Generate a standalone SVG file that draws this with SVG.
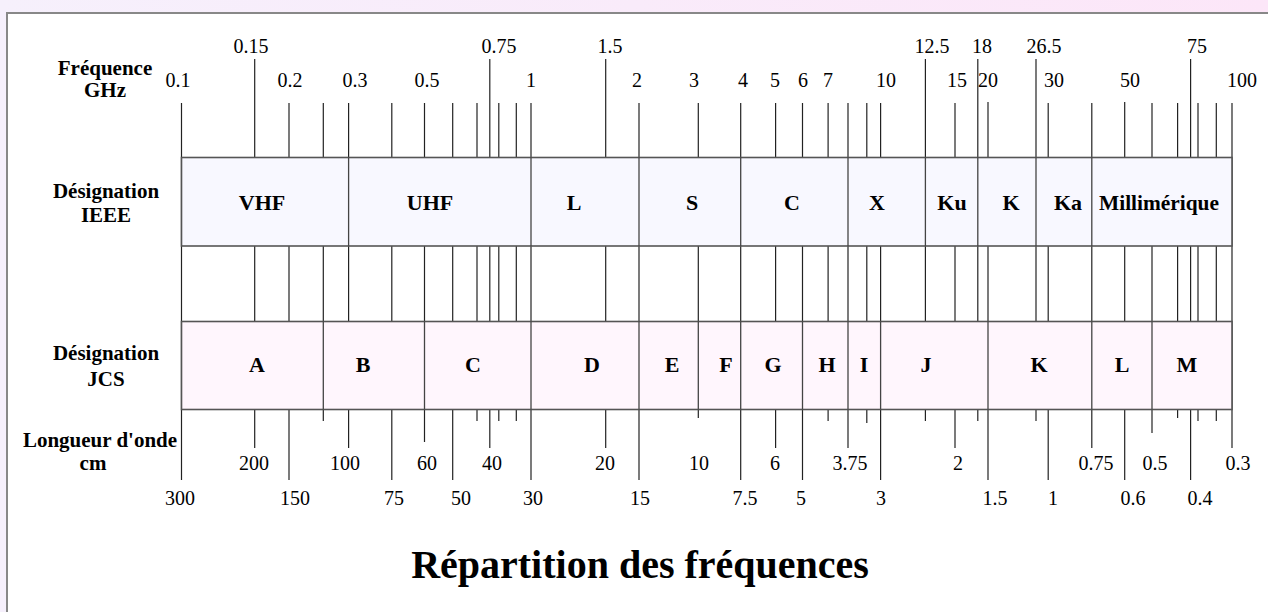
<svg xmlns="http://www.w3.org/2000/svg" width="1268" height="612" viewBox="0 0 1268 612">
<defs>
<linearGradient id="bg" x1="0" y1="0" x2="1" y2="0">
<stop offset="0" stop-color="#f6f0fc"/>
<stop offset="1" stop-color="#fce6f8"/>
</linearGradient>
<style>
.n{font-family:"Liberation Serif","Times New Roman",serif;font-size:20px;fill:#000;text-anchor:middle}
.h{font-family:"Liberation Serif","Times New Roman",serif;font-size:21px;font-weight:bold;fill:#000;text-anchor:middle}
.b{font-family:"Liberation Serif","Times New Roman",serif;font-size:22px;font-weight:bold;fill:#000;text-anchor:middle}
.t{font-family:"Liberation Serif","Times New Roman",serif;font-size:40px;font-weight:bold;fill:#000;text-anchor:middle}
.tk line{stroke:#222;stroke-width:1.2}
.dv line{stroke:#444;stroke-width:1.3}
.box{stroke:#555;stroke-width:1.6}
</style>
</defs>
<rect x="0" y="0" width="1268" height="612" fill="url(#bg)"/>
<rect x="7" y="13" width="1280" height="620" fill="#fff" stroke="#888" stroke-width="2"/>

<g id="ticks" class="tk">
<line x1="181.5" y1="103" x2="181.5" y2="480"/>
<line x1="254.7" y1="59" x2="254.7" y2="448"/>
<line x1="289" y1="103" x2="289" y2="480"/>
<line x1="323.3" y1="103" x2="323.3" y2="421"/>
<line x1="348.6" y1="103" x2="348.6" y2="448"/>
<line x1="391.8" y1="103" x2="391.8" y2="480"/>
<line x1="424.5" y1="103" x2="424.5" y2="442"/>
<line x1="452.7" y1="103" x2="452.7" y2="480"/>
<line x1="477" y1="103" x2="477" y2="421"/>
<line x1="489.8" y1="59" x2="489.8" y2="448"/>
<line x1="498.8" y1="103" x2="498.8" y2="421"/>
<line x1="516.3" y1="103" x2="516.3" y2="421"/>
<line x1="531" y1="103" x2="531" y2="480"/>
<line x1="605.7" y1="59" x2="605.7" y2="448"/>
<line x1="639" y1="103" x2="639" y2="480"/>
<line x1="698.3" y1="103" x2="698.3" y2="418"/>
<line x1="740.7" y1="103" x2="740.7" y2="480"/>
<line x1="775.6" y1="103" x2="775.6" y2="448"/>
<line x1="802.5" y1="103" x2="802.5" y2="480"/>
<line x1="828.1" y1="103" x2="828.1" y2="421"/>
<line x1="848" y1="103" x2="848" y2="448"/>
<line x1="866.8" y1="103" x2="866.8" y2="423"/>
<line x1="880.6" y1="103" x2="880.6" y2="480"/>
<line x1="925.4" y1="59" x2="925.4" y2="421"/>
<line x1="955" y1="103" x2="955" y2="448"/>
<line x1="977.8" y1="59" x2="977.8" y2="421"/>
<line x1="988" y1="102" x2="988" y2="480"/>
<line x1="1036" y1="59" x2="1036" y2="421"/>
<line x1="1048.2" y1="103" x2="1048.2" y2="480"/>
<line x1="1091.8" y1="103" x2="1091.8" y2="448"/>
<line x1="1124.7" y1="102" x2="1124.7" y2="480"/>
<line x1="1152" y1="103" x2="1152" y2="433"/>
<line x1="1177.6" y1="103" x2="1177.6" y2="418"/>
<line x1="1190.6" y1="59" x2="1190.6" y2="480"/>
<line x1="1198" y1="103" x2="1198" y2="421"/>
<line x1="1216.3" y1="103" x2="1216.3" y2="421"/>
<line x1="1232" y1="103" x2="1232" y2="448"/>
</g>

<g id="freq-labels">
<text class="h" x="105" y="75">Fréquence</text>
<text class="h" x="105" y="97">GHz</text>
<text class="n" x="251" y="53">0.15</text>
<text class="n" x="499" y="53">0.75</text>
<text class="n" x="610" y="53">1.5</text>
<text class="n" x="932" y="53">12.5</text>
<text class="n" x="982" y="53">18</text>
<text class="n" x="1044" y="53">26.5</text>
<text class="n" x="1197" y="53">75</text>
<text class="n" x="178" y="87">0.1</text>
<text class="n" x="290" y="87">0.2</text>
<text class="n" x="355" y="87">0.3</text>
<text class="n" x="427" y="87">0.5</text>
<text class="n" x="531" y="87">1</text>
<text class="n" x="637" y="87">2</text>
<text class="n" x="694" y="87">3</text>
<text class="n" x="743" y="87">4</text>
<text class="n" x="775" y="87">5</text>
<text class="n" x="803" y="87">6</text>
<text class="n" x="828" y="87">7</text>
<text class="n" x="886" y="87">10</text>
<text class="n" x="957" y="87">15</text>
<text class="n" x="988" y="87">20</text>
<text class="n" x="1054" y="87">30</text>
<text class="n" x="1130" y="87">50</text>
<text class="n" x="1242" y="87">100</text>
</g>

<g id="ieee">
<text class="h" x="106" y="198">Désignation</text>
<text class="h" x="106" y="222">IEEE</text>
<rect class="box" x="181.5" y="157.5" width="1050.5" height="88.5" fill="#f8f8ff"/>
<g class="dv">
<line x1="348.6" y1="157.5" x2="348.6" y2="246"/>
<line x1="531" y1="157.5" x2="531" y2="246"/>
<line x1="639" y1="157.5" x2="639" y2="246"/>
<line x1="740.7" y1="157.5" x2="740.7" y2="246"/>
<line x1="848" y1="157.5" x2="848" y2="246"/>
<line x1="925.4" y1="157.5" x2="925.4" y2="246"/>
<line x1="977.8" y1="157.5" x2="977.8" y2="246"/>
<line x1="1036" y1="157.5" x2="1036" y2="246"/>
<line x1="1091.8" y1="157.5" x2="1091.8" y2="246"/>
</g>
<text class="b" x="262" y="210">VHF</text>
<text class="b" x="430" y="210">UHF</text>
<text class="b" x="574" y="210">L</text>
<text class="b" x="692" y="210">S</text>
<text class="b" x="792" y="210">C</text>
<text class="b" x="877" y="210">X</text>
<text class="b" x="952" y="210">Ku</text>
<text class="b" x="1011" y="210">K</text>
<text class="b" x="1068" y="210">Ka</text>
<text class="b" x="1159" y="210" textLength="120" lengthAdjust="spacingAndGlyphs">Millimérique</text>
</g>

<g id="jcs">
<text class="h" x="106" y="360">Désignation</text>
<text class="h" x="106" y="386">JCS</text>
<rect class="box" x="181.5" y="321.5" width="1050.5" height="88" fill="#fff6fd"/>
<g class="dv">
<line x1="323.3" y1="321.5" x2="323.3" y2="409.5"/>
<line x1="424.5" y1="321.5" x2="424.5" y2="409.5"/>
<line x1="531" y1="321.5" x2="531" y2="409.5"/>
<line x1="639" y1="321.5" x2="639" y2="409.5"/>
<line x1="698.3" y1="321.5" x2="698.3" y2="409.5"/>
<line x1="740.7" y1="321.5" x2="740.7" y2="409.5"/>
<line x1="802.5" y1="321.5" x2="802.5" y2="409.5"/>
<line x1="848" y1="321.5" x2="848" y2="409.5"/>
<line x1="880.6" y1="321.5" x2="880.6" y2="409.5"/>
<line x1="988" y1="321.5" x2="988" y2="409.5"/>
<line x1="1091.8" y1="321.5" x2="1091.8" y2="409.5"/>
<line x1="1152" y1="321.5" x2="1152" y2="409.5"/>
</g>
<text class="b" x="257" y="372">A</text>
<text class="b" x="363" y="372">B</text>
<text class="b" x="473" y="372">C</text>
<text class="b" x="592" y="372">D</text>
<text class="b" x="672" y="372">E</text>
<text class="b" x="726" y="372">F</text>
<text class="b" x="773" y="372">G</text>
<text class="b" x="827" y="372">H</text>
<text class="b" x="864" y="372">I</text>
<text class="b" x="926" y="372">J</text>
<text class="b" x="1039" y="372">K</text>
<text class="b" x="1122" y="372">L</text>
<text class="b" x="1187" y="372">M</text>
</g>

<g id="wave-labels">
<text class="h" x="100" y="447">Longueur d'onde</text>
<text class="h" x="93" y="470">cm</text>
<text class="n" x="254" y="470">200</text>
<text class="n" x="345" y="470">100</text>
<text class="n" x="427" y="470">60</text>
<text class="n" x="492" y="470">40</text>
<text class="n" x="605" y="470">20</text>
<text class="n" x="699" y="470">10</text>
<text class="n" x="775" y="470">6</text>
<text class="n" x="850" y="470">3.75</text>
<text class="n" x="958" y="470">2</text>
<text class="n" x="1096" y="470">0.75</text>
<text class="n" x="1155" y="470">0.5</text>
<text class="n" x="1238" y="470">0.3</text>
<text class="n" x="180" y="505">300</text>
<text class="n" x="295" y="505">150</text>
<text class="n" x="394" y="505">75</text>
<text class="n" x="461" y="505">50</text>
<text class="n" x="533" y="505">30</text>
<text class="n" x="640" y="505">15</text>
<text class="n" x="745" y="505">7.5</text>
<text class="n" x="801" y="505">5</text>
<text class="n" x="881" y="505">3</text>
<text class="n" x="995" y="505">1.5</text>
<text class="n" x="1053" y="505">1</text>
<text class="n" x="1133" y="505">0.6</text>
<text class="n" x="1200" y="505">0.4</text>
</g>

<text class="t" x="640" y="578">Répartition des fréquences</text>
</svg>
